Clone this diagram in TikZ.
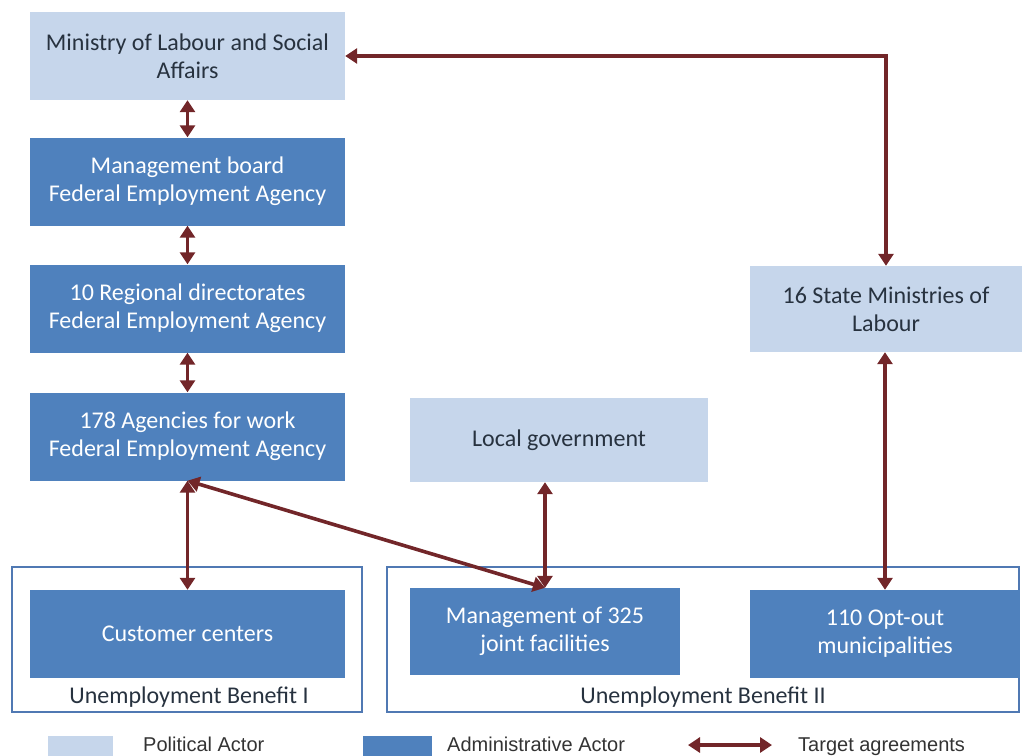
\documentclass[tikz,border=0pt]{standalone}
\usepackage{fontspec}
\setmainfont{Carlito}
\newfontfamily\legendfont{Liberation Sans}
\usetikzlibrary{arrows.meta,positioning}
\definecolor{politic}{HTML}{C6D6EB}
\definecolor{admin}{HTML}{4F81BD}
\definecolor{framec}{HTML}{5079B3}
\definecolor{agreec}{HTML}{722629}
\definecolor{darktext}{HTML}{27323F}

\begin{document}
\begin{tikzpicture}[x=1pt,y=-1pt,
 font=\fontsize{24}{28}\selectfont,
 political/.style={fill=politic,text=darktext,align=center,inner sep=0pt,minimum width=315pt,minimum height=88pt},
 administrative/.style={political,fill=admin,text=white},
 frame/.style={draw=framec,line width=1.6pt},
 keytext/.style={font=\legendfont\fontsize{20}{22}\selectfont,text=black!80,anchor=base west,inner sep=0pt},
 agree/.style={{Triangle[width=15pt,length=12pt]}-{Triangle[width=15pt,length=12pt]},line width=3.6pt,draw=agreec,line join=miter}]
\useasboundingbox (0,0) rectangle (1022,755);
% unemployment benefit frames
\draw[frame] (12,567) rectangle (362,712);
\draw[frame] (387,567) rectangle (1019,712);
\node[text=darktext] (ubone) at (189,697) {Unemployment Benefit I};
\node[text=darktext] (ubtwo) at (703,697) {Unemployment Benefit II};
% actors
\node[political] (ministry) at (187.5,56) {Ministry of Labour and Social\\Affairs};
\node[administrative] (board) at (187.5,181.5) {Management board\\Federal Employment Agency};
\node[administrative] (regional) at (187.5,308.5) {10 Regional directorates\\Federal Employment Agency};
\node[administrative] (agencies) at (187.5,436.5) {178 Agencies for work\\Federal Employment Agency};
\node[political,minimum width=298pt,minimum height=84pt] (localgov) at (559,440) {Local government};
\node[political,minimum width=272pt,minimum height=86pt] (state) at (886,309) {16 State Ministries of\\Labour};
\node[administrative] (customer) at (187.5,634) {Customer centers};
\node[administrative,minimum width=270pt,minimum height=87pt] (joint) at (545,631.5) {Management of 325\\joint facilities};
\node[administrative,minimum width=270pt] (optout) at (885,634) {110 Opt-out\\municipalities};
% target agreements
\coordinate (corner) at (state.north |- ministry.east);
\draw[agree] (ministry.east) -- (corner) -- (state.north);
\draw[agree] (ministry) -- (board);
\draw[agree] (board) -- (regional);
\draw[agree] (regional) -- (agencies);
\draw[agree] (agencies.south) -- (customer.north);
\draw[agree] (agencies.south) -- (joint.north);
\draw[agree] (joint.north |- localgov.south) -- (joint.north);
\draw[agree] (state.south -| optout.north) -- (optout.north);
% legend
\node[fill=politic,minimum width=65pt,minimum height=22pt,inner sep=0pt] (polkey) at (80.5,747) {};
\node[keytext] (poltext) at (143,751) {Political Actor};
\node[fill=admin,minimum width=69pt,minimum height=22pt,inner sep=0pt] (adkey) at (397.5,747) {};
\node[keytext] (adtext) at (447,751) {Administrative Actor};
\coordinate (keyl) at (688,745);
\coordinate (keyr) at (772,745);
\draw[agree] (keyl) -- (keyr);
\node[keytext] (agtext) at (798,751) {Target agreements};
\end{tikzpicture}
\end{document}
